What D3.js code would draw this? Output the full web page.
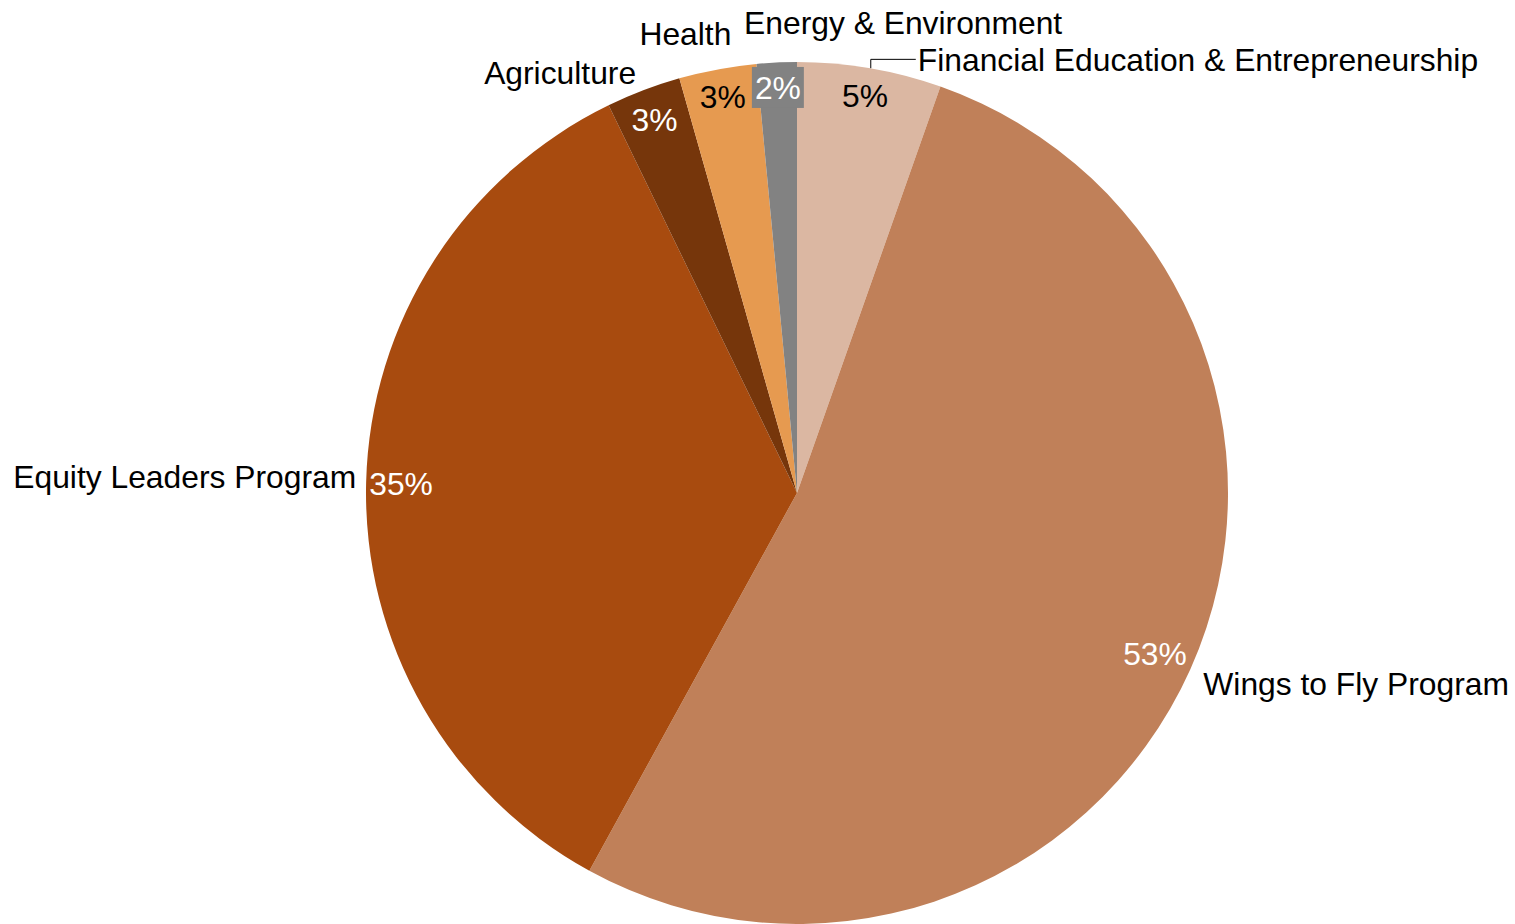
<!DOCTYPE html>
<html>
<head>
<meta charset="utf-8">
<script src="https://cdn.jsdelivr.net/npm/d3@7"></script>
<style>
  html, body { margin: 0; padding: 0; background: #ffffff; }
  svg { display: block; }
  text { font-family: "Liberation Sans", Arial, sans-serif; }
</style>
</head>
<body>
<svg id="chart" width="1515" height="924"></svg>
<script>
// Share of funding by program area
const categories = [
  "Financial Education & Entrepreneurship",
  "Wings to Fly Program",
  "Equity Leaders Program",
  "Agriculture",
  "Health",
  "Energy & Environment"
];
const values = [5.4, 52.6, 34.8, 2.8, 2.9, 1.5];
const colors = ["#dbb7a2", "#c08059", "#a84b0f", "#76360b", "#e69a50", "#828282"];

// Percent label styling: text colour, whether it sits on a filled box
const pctColors = ["#000000", "#ffffff", "#ffffff", "#ffffff", "#000000", "#ffffff"];
const pctBoxed = [false, false, false, false, false, true];
// Radial position of each percent label, as a fraction of the pie radius
const pctRadius = [0.935, 0.91, 0.919, 0.928, 0.935, 0.942];

// Category label placement: anchor, nudge from the point just outside the rim
const nameAnchor = ["start", "start", "end", "end", "end", "middle"];
const nameNudge = [[46, 3], [2, 10], [2, -5], [-3, -7], [16, -24], [127, -28]];
const nameLeader = [true, false, false, false, false, false];

const width = 1515, height = 924;
const cx = 797, cy = 493, radius = 431;
const fontSize = 31.8;

const svg = d3.select("#chart");
const g = svg.append("g").attr("transform", `translate(${cx},${cy})`);

const data = categories.map((name, i) => ({ name, value: values[i], i }));
const total = d3.sum(values);

const pie = d3.pie().value(d => d.value).sort(null);
const arcs = pie(data);

const arc = d3.arc().innerRadius(0).outerRadius(radius);

g.selectAll("path.slice")
  .data(arcs)
  .join("path")
  .attr("class", "slice")
  .attr("d", arc)
  .attr("fill", d => colors[d.data.i]);

const mid = d => (d.startAngle + d.endAngle) / 2;
const polar = (a, r) => [Math.sin(a) * r, -Math.cos(a) * r];

// Category names outside the pie
arcs.forEach(d => {
  const i = d.data.i;
  const a = mid(d);
  const [px, py] = polar(a, radius + 12);
  const tx = px + nameNudge[i][0];
  const ty = py + nameNudge[i][1];

  if (nameLeader[i]) {
    const [ex, ey] = polar(a, radius);
    g.append("path")
      .attr("d", d3.line()([[ex + 1, ey], [ex + 1, ty], [tx - 2, ty]]))
      .attr("fill", "none")
      .attr("stroke", "#000")
      .attr("stroke-width", 1);
  }

  g.append("text")
    .attr("x", tx)
    .attr("y", ty)
    .attr("dy", "0.36em")
    .attr("text-anchor", nameAnchor[i])
    .attr("font-size", fontSize)
    .attr("fill", "#000")
    .text(d.data.name);
});

// Percent labels inside the slices
arcs.forEach(d => {
  const i = d.data.i;
  const [px, py] = polar(mid(d), radius * pctRadius[i]);
  const label = Math.round(d.data.value / total * 100) + "%";
  const grp = g.append("g");
  const t = grp.append("text")
    .attr("x", px)
    .attr("y", py)
    .attr("dy", "0.36em")
    .attr("text-anchor", "middle")
    .attr("font-size", fontSize)
    .attr("fill", pctColors[i])
    .text(label);
  if (pctBoxed[i]) {
    const bb = t.node().getBBox();
    grp.insert("rect", "text")
      .attr("x", bb.x - 3)
      .attr("y", py - 20.5)
      .attr("width", bb.width + 6)
      .attr("height", 41)
      .attr("fill", colors[i]);
  }
});
</script>
</body>
</html>
